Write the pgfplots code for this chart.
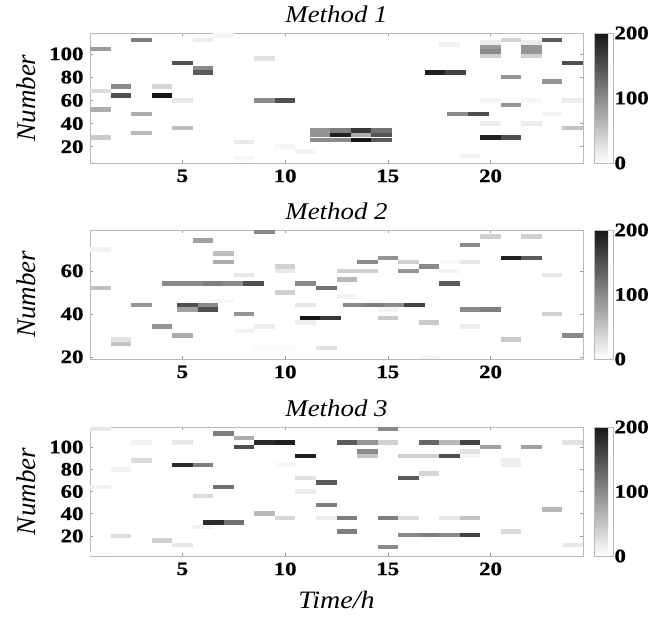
\documentclass[border=0pt]{standalone}
\usepackage{fontspec}
\setmainfont{Liberation Serif}
\newfontfamily\stretchfont{Liberation Serif}[FakeStretch=1.12]
\newfontfamily\tickfont{Liberation Serif}[FakeStretch=1.2,FakeBold=0.8]
\usepackage{pgfplots}
\usepackage{pgfplotstable}
\pgfplotsset{compat=1.18}

\pgfdeclareplotmark{cell}{\pgfpathrectangle{\pgfqpoint{-10.27pt}{-2.25pt}}{\pgfqpoint{20.54pt}{4.5pt}}\pgfusepathqfill}

\pgfplotstableread{
x y c
1 104 85
1 68 30
1 52 70
1 28 45
2 72 100
2 64 150
3 112 110
3 48 70
3 32 60
4 72 35
4 64 200
5 92 150
5 60 20
5 36 55
6 112 15
6 88 100
6 84 140
7 116 8
8 24 20
8 10 8
9 96 25
9 60 100
10 60 150
10 20 8
11 16 10
11.7 34 90
11.7 30 95
11.7 26 100
12.7 34 110
12.7 30 190
12.7 26 100
13.7 34 170
13.7 30 70
13.7 26 200
14.7 34 120
14.7 30 145
14.7 26 140
17.3 84 190
18.3 84 160
18 108 12
18.4 48 100
19.4 48 150
19 12 10
20 110 15
20 106 85
20 102 100
20 98 40
20 60 8
20 40 15
20 28 190
21 112 35
21 80 90
21 56 90
21 28 150
22 110 15
22 106 90
22 102 90
22 98 40
22 60 8
22 40 15
23 112 140
23 76 90
23 48 10
24 92 150
24 60 15
24 36 50
}\dataA

\pgfplotstableread{
x y c
1 70 10
1 52 55
2 28 25
2 26 50
3 44 90
4 34 90
5 30 70
4.5 54 100
5.5 54 100
6.5 54 110
7.45 54 100
8.45 54 150
5.25 44 150
5.25 42 80
6.25 44 100
6.25 42 150
6 74 80
7 68 55
7 64 70
7 46 8
8 58 20
8 40 90
8 32 10
9 78 100
9 34 15
9 24 5
10 62 40
10 60 20
10 50 40
10 24 5
11 54 100
11 44 20
11 36 15
11.2 38 200
12.2 38 170
12 52 120
12 24 25
13 60 40
13 56 60
13 48 10
14 64 100
14 60 40
13.3 44 100
14.3 44 110
15.3 44 100
16.3 44 160
15 66 90
15 42 10
15 38 45
16 64 40
16 60 90
17 62 100
17 36 45
17 20 8
18 64 8
18 60 10
18 54 140
19 72 100
19 64 20
19 42 100
19 34 15
20 76 40
20 42 110
21 66 190
21 28 45
22 76 40
22 66 140
23 58 20
23 40 40
24 30 100
}\dataB

\pgfplotstableread{
x y c
1 116 20
1 64 10
1 4 5
2 80 10
2 20 30
3 104 10
3 88 30
4 16 40
5 104 20
5 84 180
5 12 20
6 84 110
6 56 30
6 28 10
7 112 110
7 64 120
6.5 32 180
7.5 32 120
8 108 70
8 100 150
9 104 180
9 40 60
10 104 190
10 84 8
10 36 35
11 92 190
11 72 25
11 60 15
12 68 140
12 48 110
12 36 15
13 104 140
13 36 110
13 24 110
14 104 90
14 96 100
14 92 50
15 116 100
15 104 40
15 36 110
15 10 100
16 92 40
16 72 140
16 36 30
16 21 100
17 104 130
17 92 40
17 76 35
17 21 110
18 104 60
18 92 150
18 36 20
18 21 100
19 104 160
19 96 25
19 92 8
19 36 50
19 21 160
20 100 80
21 88 15
21 84 15
21 24 30
22 100 80
23 44 60
24 104 25
24 12 20
}\dataC

\pgfplotsset{
  hm/.style={
    scale only axis, width=493pt,
    xmin=0.5, xmax=24.5,
    xtick={5,10,15,20},
    tick align=inside, tick pos=both, major tick length=3pt,
    axis line style={gray!55},
    every tick/.style={gray!80, line width=0.6pt},
    /pgf/number format/assume math mode=true,
    ticklabel style={font=\tickfont\bfseries\fontsize{19}{19}\selectfont},
    xticklabel style={yshift=-3pt},
    yticklabel style={xshift=-3pt},
    colormap={bw}{rgb255=(255,255,255) rgb255=(22,22,22)},
    point meta min=0, point meta max=200,
    colorbar,
    colorbar shift/.style={xshift=11pt},
    colorbar style={
      at={(parent axis.north east)}, anchor=north west,
      width=19pt, ytick={0,100,200}, major tick length=0pt,
      axis line style={gray!55},
      /pgf/number format/assume math mode=true,
      yticklabel style={font=\tickfont\bfseries\fontsize{19}{19}\selectfont, xshift=-2pt},
    },
    title style={font=\stretchfont\itshape\fontsize{24}{24}\selectfont, at={(axis description cs:0.5,1)}, anchor=base, yshift=4pt},
    ylabel=Number,
    ylabel style={font=\itshape\fontsize{27}{27}\selectfont, at={(axis description cs:-0.13,0.5)}, anchor=center},
  },
  cells/.style={scatter, only marks, mark=cell,
    scatter/use mapped color={fill=mapped color}},
}

\begin{document}
\begin{tikzpicture}
\path[use as bounding box] (0,0) rectangle (655pt,618pt);

\begin{axis}[hm, at={(90pt,455pt)}, anchor=south west, height=130pt,
  ymin=6, ymax=118, ytick={20,40,60,80,100}, title={Method 1}]
\addplot[cells] table[x=x, y=y, point meta=\thisrow{c}] {\dataA};
\end{axis}

\begin{axis}[hm, at={(90pt,259pt)}, anchor=south west, height=129pt,
  ymin=19, ymax=79, ytick={20,40,60}, title={Method 2}]
\addplot[cells] table[x=x, y=y, point meta=\thisrow{c}] {\dataB};
\end{axis}

\begin{axis}[hm, at={(90pt,62pt)}, anchor=south west, height=129pt,
  ymin=2, ymax=118, ytick={20,40,60,80,100}, title={Method 3},
  xlabel={Time/h},
  xlabel style={font=\stretchfont\itshape\fontsize{25}{25}\selectfont, at={(axis description cs:0.5,-0.341)}, anchor=center}]
\addplot[cells] table[x=x, y=y, point meta=\thisrow{c}] {\dataC};
\end{axis}
\end{tikzpicture}
\end{document}
